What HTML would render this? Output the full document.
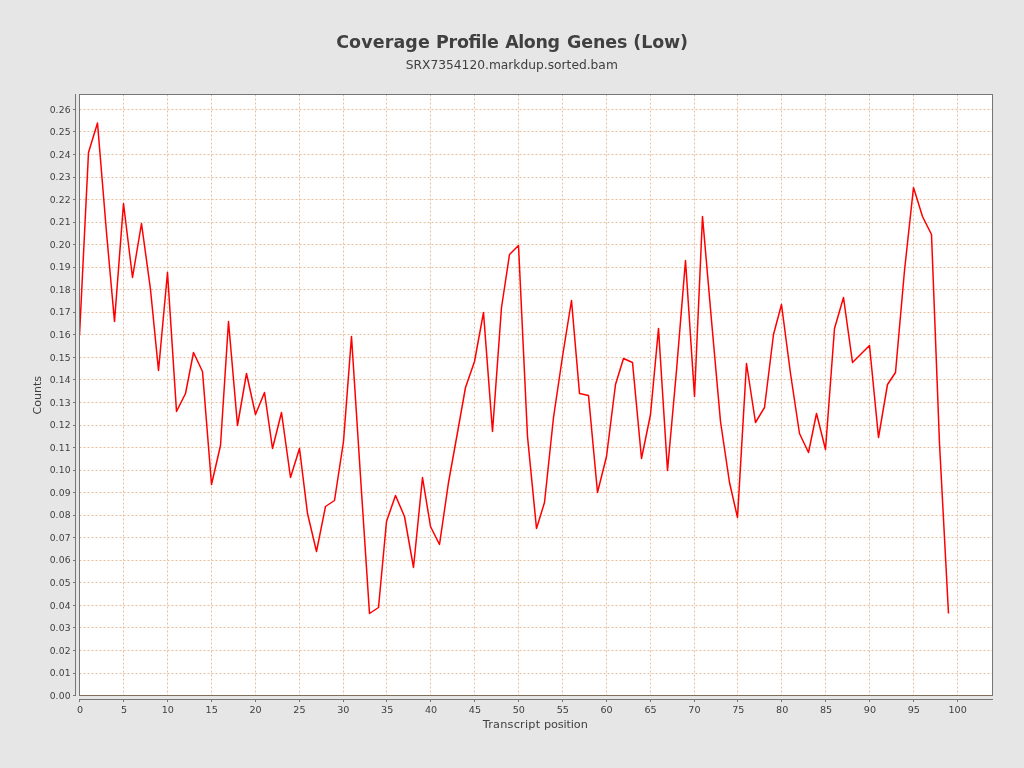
<!DOCTYPE html>
<html lang="en"><head><meta charset="utf-8"><title>Coverage Profile Along Genes (Low)</title>
<style>html,body{margin:0;padding:0;background:#e6e6e6;width:1024px;height:768px;overflow:hidden}svg{display:block;will-change:transform}text{font-family:"DejaVu Sans","Liberation Sans",sans-serif;fill:#404040}</style></head><body>
<svg width="1024" height="768" viewBox="0 0 1024 768">
<rect x="0" y="0" width="1024" height="768" fill="#e6e6e6"/>
<text y="48.2" font-size="17.45" font-weight="bold"><tspan x="336.14" textLength="93.66" lengthAdjust="spacing">Coverage</tspan> <tspan x="436.07" textLength="62.7" lengthAdjust="spacing">Profile</tspan> <tspan x="505.14" textLength="54.86" lengthAdjust="spacing">Along</tspan> <tspan x="566.98" textLength="60.37" lengthAdjust="spacing">Genes</tspan> <tspan x="633.32" textLength="54.74" lengthAdjust="spacing">(Low)</tspan></text>
<text x="511.8" y="68.6" text-anchor="middle" font-size="12.26">SRX7354120.markdup.sorted.bam</text>
<rect x="79.5" y="94.5" width="913" height="601" fill="#ffffff"/>
<g stroke="#e8bf9c" stroke-width="1" stroke-dasharray="2 2" fill="none">
<line x1="123.5" y1="94.5" x2="123.5" y2="695.5"/>
<line x1="167.5" y1="94.5" x2="167.5" y2="695.5"/>
<line x1="211.5" y1="94.5" x2="211.5" y2="695.5"/>
<line x1="255.5" y1="94.5" x2="255.5" y2="695.5"/>
<line x1="299.5" y1="94.5" x2="299.5" y2="695.5"/>
<line x1="343.5" y1="94.5" x2="343.5" y2="695.5"/>
<line x1="386.5" y1="94.5" x2="386.5" y2="695.5"/>
<line x1="430.5" y1="94.5" x2="430.5" y2="695.5"/>
<line x1="474.5" y1="94.5" x2="474.5" y2="695.5"/>
<line x1="518.5" y1="94.5" x2="518.5" y2="695.5"/>
<line x1="562.5" y1="94.5" x2="562.5" y2="695.5"/>
<line x1="606.5" y1="94.5" x2="606.5" y2="695.5"/>
<line x1="650.5" y1="94.5" x2="650.5" y2="695.5"/>
<line x1="694.5" y1="94.5" x2="694.5" y2="695.5"/>
<line x1="737.5" y1="94.5" x2="737.5" y2="695.5"/>
<line x1="781.5" y1="94.5" x2="781.5" y2="695.5"/>
<line x1="825.5" y1="94.5" x2="825.5" y2="695.5"/>
<line x1="869.5" y1="94.5" x2="869.5" y2="695.5"/>
<line x1="913.5" y1="94.5" x2="913.5" y2="695.5"/>
<line x1="957.5" y1="94.5" x2="957.5" y2="695.5"/>
<line x1="79.5" y1="695.5" x2="992.5" y2="695.5"/>
<line x1="79.5" y1="673.5" x2="992.5" y2="673.5"/>
<line x1="79.5" y1="650.5" x2="992.5" y2="650.5"/>
<line x1="79.5" y1="627.5" x2="992.5" y2="627.5"/>
<line x1="79.5" y1="605.5" x2="992.5" y2="605.5"/>
<line x1="79.5" y1="582.5" x2="992.5" y2="582.5"/>
<line x1="79.5" y1="560.5" x2="992.5" y2="560.5"/>
<line x1="79.5" y1="537.5" x2="992.5" y2="537.5"/>
<line x1="79.5" y1="515.5" x2="992.5" y2="515.5"/>
<line x1="79.5" y1="492.5" x2="992.5" y2="492.5"/>
<line x1="79.5" y1="470.5" x2="992.5" y2="470.5"/>
<line x1="79.5" y1="447.5" x2="992.5" y2="447.5"/>
<line x1="79.5" y1="425.5" x2="992.5" y2="425.5"/>
<line x1="79.5" y1="402.5" x2="992.5" y2="402.5"/>
<line x1="79.5" y1="379.5" x2="992.5" y2="379.5"/>
<line x1="79.5" y1="357.5" x2="992.5" y2="357.5"/>
<line x1="79.5" y1="334.5" x2="992.5" y2="334.5"/>
<line x1="79.5" y1="312.5" x2="992.5" y2="312.5"/>
<line x1="79.5" y1="289.5" x2="992.5" y2="289.5"/>
<line x1="79.5" y1="267.5" x2="992.5" y2="267.5"/>
<line x1="79.5" y1="244.5" x2="992.5" y2="244.5"/>
<line x1="79.5" y1="222.5" x2="992.5" y2="222.5"/>
<line x1="79.5" y1="199.5" x2="992.5" y2="199.5"/>
<line x1="79.5" y1="177.5" x2="992.5" y2="177.5"/>
<line x1="79.5" y1="154.5" x2="992.5" y2="154.5"/>
<line x1="79.5" y1="131.5" x2="992.5" y2="131.5"/>
<line x1="79.5" y1="109.5" x2="992.5" y2="109.5"/>
</g>
<clipPath id="plotclip"><rect x="79.5" y="94.5" width="913" height="601"/></clipPath>
<polyline clip-path="url(#plotclip)" points="79.5,335.5 88.5,152.5 97.5,123 106.5,232.5 114.5,321.5 123.5,203.5 132.5,277.5 141.5,223.5 150.5,289.5 158.5,370.5 167.5,272.5 176.5,411.5 185.5,393.5 193.5,352.5 202.5,371.5 211.5,484.5 220.5,445.5 228.5,321.5 237.5,425.5 246.5,373.5 255.5,414.5 264.5,392.5 272.5,448.5 281.5,412.5 290.5,477.5 299.5,448.5 307.5,513.5 316.5,551.5 325.5,506.5 334.5,500.5 343.5,441.5 351.5,336.5 360.5,476.5 369.5,613.5 378.5,607.5 386.5,521.5 395.5,495.5 404.5,516.5 413.5,567.5 422.5,477.5 430.5,526.5 439.5,544.5 448.5,482.5 457.5,432.5 465.5,387.5 474.5,361.5 483.5,312.5 492.5,431.5 501.5,307.5 509.5,254.5 518.5,245.5 527.5,436.5 536.5,528.5 544.5,502.5 553.5,417.5 562.5,356.5 571.5,300.5 579.5,393.5 588.5,395.5 597.5,492.5 606.5,456.5 615.5,384.5 623.5,358.5 632.5,362.5 641.5,458.5 650.5,414.5 658.5,328.5 667.5,470.5 676.5,370.5 685.5,260.5 694.5,396.5 702.5,216.5 711.5,320.5 720.5,421.5 729.5,482.5 737.5,517.5 746.5,363.5 755.5,422.5 764.5,407.5 773.5,334.5 781.5,304.5 790.5,373.5 799.5,433.5 808.5,452.5 816.5,413.5 825.5,449.5 834.5,328.5 843.5,297.5 852.5,362.5 860.5,354.5 869.5,345.5 878.5,437.5 887.5,384.5 895.5,372.5 904.5,270.5 913.5,187.5 922.5,216.5 931.5,234.5 939.5,443.5 948.5,613.5" fill="none" stroke="#ff0000" stroke-width="1.5" stroke-linejoin="round" stroke-linecap="butt"/>
<rect x="79.5" y="94.5" width="913" height="601" fill="none" stroke="#767676" stroke-width="1"/>
<line x1="79.5" y1="695.5" x2="992.5" y2="695.5" stroke="#94602f" stroke-opacity="0.7" stroke-width="1" stroke-dasharray="2 2"/>
<g stroke="#767676" stroke-width="1" fill="none">
<line x1="75.5" y1="94" x2="75.5" y2="696"/>
<line x1="79" y1="699.5" x2="993" y2="699.5"/>
<line x1="73" y1="695.5" x2="75" y2="695.5"/>
<line x1="73" y1="673.5" x2="75" y2="673.5"/>
<line x1="73" y1="650.5" x2="75" y2="650.5"/>
<line x1="73" y1="627.5" x2="75" y2="627.5"/>
<line x1="73" y1="605.5" x2="75" y2="605.5"/>
<line x1="73" y1="582.5" x2="75" y2="582.5"/>
<line x1="73" y1="560.5" x2="75" y2="560.5"/>
<line x1="73" y1="537.5" x2="75" y2="537.5"/>
<line x1="73" y1="515.5" x2="75" y2="515.5"/>
<line x1="73" y1="492.5" x2="75" y2="492.5"/>
<line x1="73" y1="470.5" x2="75" y2="470.5"/>
<line x1="73" y1="447.5" x2="75" y2="447.5"/>
<line x1="73" y1="425.5" x2="75" y2="425.5"/>
<line x1="73" y1="402.5" x2="75" y2="402.5"/>
<line x1="73" y1="379.5" x2="75" y2="379.5"/>
<line x1="73" y1="357.5" x2="75" y2="357.5"/>
<line x1="73" y1="334.5" x2="75" y2="334.5"/>
<line x1="73" y1="312.5" x2="75" y2="312.5"/>
<line x1="73" y1="289.5" x2="75" y2="289.5"/>
<line x1="73" y1="267.5" x2="75" y2="267.5"/>
<line x1="73" y1="244.5" x2="75" y2="244.5"/>
<line x1="73" y1="222.5" x2="75" y2="222.5"/>
<line x1="73" y1="199.5" x2="75" y2="199.5"/>
<line x1="73" y1="177.5" x2="75" y2="177.5"/>
<line x1="73" y1="154.5" x2="75" y2="154.5"/>
<line x1="73" y1="131.5" x2="75" y2="131.5"/>
<line x1="73" y1="109.5" x2="75" y2="109.5"/>
<line x1="79.5" y1="700" x2="79.5" y2="702"/>
<line x1="123.5" y1="700" x2="123.5" y2="702"/>
<line x1="167.5" y1="700" x2="167.5" y2="702"/>
<line x1="211.5" y1="700" x2="211.5" y2="702"/>
<line x1="255.5" y1="700" x2="255.5" y2="702"/>
<line x1="299.5" y1="700" x2="299.5" y2="702"/>
<line x1="343.5" y1="700" x2="343.5" y2="702"/>
<line x1="386.5" y1="700" x2="386.5" y2="702"/>
<line x1="430.5" y1="700" x2="430.5" y2="702"/>
<line x1="474.5" y1="700" x2="474.5" y2="702"/>
<line x1="518.5" y1="700" x2="518.5" y2="702"/>
<line x1="562.5" y1="700" x2="562.5" y2="702"/>
<line x1="606.5" y1="700" x2="606.5" y2="702"/>
<line x1="650.5" y1="700" x2="650.5" y2="702"/>
<line x1="694.5" y1="700" x2="694.5" y2="702"/>
<line x1="737.5" y1="700" x2="737.5" y2="702"/>
<line x1="781.5" y1="700" x2="781.5" y2="702"/>
<line x1="825.5" y1="700" x2="825.5" y2="702"/>
<line x1="869.5" y1="700" x2="869.5" y2="702"/>
<line x1="913.5" y1="700" x2="913.5" y2="702"/>
<line x1="957.5" y1="700" x2="957.5" y2="702"/>
</g>
<g font-size="9.2" text-anchor="end" letter-spacing="0.12">
<text x="70.6" y="698.75">0.00</text>
<text x="70.6" y="676.20">0.01</text>
<text x="70.6" y="653.65">0.02</text>
<text x="70.6" y="631.11">0.03</text>
<text x="70.6" y="608.56">0.04</text>
<text x="70.6" y="586.02">0.05</text>
<text x="70.6" y="563.47">0.06</text>
<text x="70.6" y="540.92">0.07</text>
<text x="70.6" y="518.38">0.08</text>
<text x="70.6" y="495.83">0.09</text>
<text x="70.6" y="473.29">0.10</text>
<text x="70.6" y="450.74">0.11</text>
<text x="70.6" y="428.20">0.12</text>
<text x="70.6" y="405.65">0.13</text>
<text x="70.6" y="383.10">0.14</text>
<text x="70.6" y="360.56">0.15</text>
<text x="70.6" y="338.01">0.16</text>
<text x="70.6" y="315.47">0.17</text>
<text x="70.6" y="292.92">0.18</text>
<text x="70.6" y="270.37">0.19</text>
<text x="70.6" y="247.83">0.20</text>
<text x="70.6" y="225.28">0.21</text>
<text x="70.6" y="202.74">0.22</text>
<text x="70.6" y="180.19">0.23</text>
<text x="70.6" y="157.65">0.24</text>
<text x="70.6" y="135.10">0.25</text>
<text x="70.6" y="112.55">0.26</text>
</g>
<g font-size="9.2" text-anchor="middle">
<text transform="translate(80.05,713) scale(1.045,1)">0</text>
<text transform="translate(123.93,713) scale(1.045,1)">5</text>
<text transform="translate(167.81,713) scale(1.045,1)">10</text>
<text transform="translate(211.69,713) scale(1.045,1)">15</text>
<text transform="translate(255.57,713) scale(1.045,1)">20</text>
<text transform="translate(299.45,713) scale(1.045,1)">25</text>
<text transform="translate(343.33,713) scale(1.045,1)">30</text>
<text transform="translate(387.21,713) scale(1.045,1)">35</text>
<text transform="translate(431.09,713) scale(1.045,1)">40</text>
<text transform="translate(474.97,713) scale(1.045,1)">45</text>
<text transform="translate(518.85,713) scale(1.045,1)">50</text>
<text transform="translate(562.73,713) scale(1.045,1)">55</text>
<text transform="translate(606.61,713) scale(1.045,1)">60</text>
<text transform="translate(650.49,713) scale(1.045,1)">65</text>
<text transform="translate(694.37,713) scale(1.045,1)">70</text>
<text transform="translate(738.25,713) scale(1.045,1)">75</text>
<text transform="translate(782.13,713) scale(1.045,1)">80</text>
<text transform="translate(826.01,713) scale(1.045,1)">85</text>
<text transform="translate(869.89,713) scale(1.045,1)">90</text>
<text transform="translate(913.77,713) scale(1.045,1)">95</text>
<text transform="translate(957.65,713) scale(1.045,1)">100</text>
</g>
<text y="728.2" font-size="11.3"><tspan x="482.8" textLength="57.3" lengthAdjust="spacing">Transcript</tspan> <tspan x="543.9" textLength="43.9" lengthAdjust="spacing">position</tspan></text>
<text transform="translate(40.5,395.3) rotate(-90)" text-anchor="middle" font-size="11.05">Counts</text>
</svg></body></html>
